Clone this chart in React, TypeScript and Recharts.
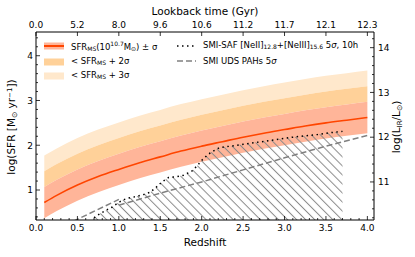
import React from "react";
import { ComposedChart, Area, Line, XAxis, YAxis } from "recharts";

// Main sequence of a 10^10.7 Msun galaxy, log SFR vs redshift
const MS_Z = [0.1, 0.25, 0.5, 0.75, 1.0, 1.25, 1.5, 1.75, 2.0, 2.25, 2.5, 2.75, 3.0, 3.25, 3.5, 3.75, 4.0];
const MS_SFR = [0.72, 0.88, 1.11, 1.3, 1.46, 1.61, 1.74, 1.87, 1.98, 2.08, 2.18, 2.27, 2.35, 2.43, 2.5, 2.56, 2.62];
const SIGMA = 0.35;

// SMI-SAF [NeII]+[NeIII] 5 sigma limit (dotted, hatched below)
const SAF_Z = [0.7, 0.78, 0.86, 0.92, 0.98, 1.05, 1.12, 1.2, 1.3, 1.38, 1.45, 1.52, 1.6, 1.7, 1.78, 1.88, 1.95, 2.01, 2.08, 2.15, 2.22, 2.35, 2.5, 2.65, 2.8, 2.95, 3.1, 3.25, 3.4, 3.55, 3.7];
const SAF_SFR = [0.38, 0.48, 0.56, 0.62, 0.7, 0.78, 0.82, 0.85, 0.9, 0.95, 1.06, 1.18, 1.28, 1.3, 1.33, 1.42, 1.55, 1.68, 1.8, 1.88, 1.95, 1.98, 2.02, 2.06, 2.1, 2.14, 2.18, 2.21, 2.24, 2.28, 2.31];

// SMI UDS PAHs 5 sigma (dashed, two pieces)
const UDS_LOW_Z = [0.45, 1.0];
const UDS_LOW_SFR = [0.3, 0.79];
const UDS_HIGH_Z = [1.0, 1.5, 2.0, 2.5, 3.0, 3.5, 4.0];
const UDS_HIGH_SFR = [0.66, 0.93, 1.18, 1.45, 1.72, 1.98, 2.22];

const LOOKBACK_LABELS = ["0.0", "5.2", "8.0", "9.6", "10.6", "11.2", "11.7", "12.1", "12.3"];

const X_DOMAIN = [0, 4.08];
const Y_DOMAIN = [0.33, 4.53];
const LIR_OFFSET = 9.82;

const FONT = "DejaVu Sans";

const msData = MS_Z.map((z, i) => {
  const m = MS_SFR[i];
  return {
    z,
    ms: m,
    band1: [m - SIGMA, m + SIGMA],
    band2: [m + SIGMA, m + 2 * SIGMA],
    band3: [m + 2 * SIGMA, m + 3 * SIGMA],
  };
});
const safData = SAF_Z.map((z, i) => ({ z, v: SAF_SFR[i] }));
const udsLow = UDS_LOW_Z.map((z, i) => ({ z, v: UDS_LOW_SFR[i] }));
const udsHigh = UDS_HIGH_Z.map((z, i) => ({ z, v: UDS_HIGH_SFR[i] }));

const xTicks: number[] = [];
for (let i = 0; i <= 40; i++) xTicks.push(i / 10);
const topTicks: number[] = [];
for (let i = 0; i <= 8; i++) topTicks.push(i / 2);
const leftTicks: number[] = [];
for (let i = 2; i <= 22; i++) leftTicks.push(i / 5);
const rightTicks: number[] = [];
for (let i = 51; i <= 71; i++) rightTicks.push(i / 5);

const MAJOR = 4;
const MINOR = 2;
const TICK_FS = 9;

function isMult(v: number, step: number) {
  const r = v / step;
  return Math.abs(r - Math.round(r)) < 1e-6;
}

const BottomTick = (p: any) => {
  const v = p.payload.value;
  const major = isMult(v, 0.5);
  return (
    <g>
      <line x1={p.x} x2={p.x} y1={p.y} y2={p.y - (major ? MAJOR : MINOR)} stroke="#000" strokeWidth={0.8} />
      {major && (
        <text x={p.x} y={p.y + 11} textAnchor="middle" fontSize={TICK_FS} fontFamily={FONT} fill="#000">
          {v.toFixed(1)}
        </text>
      )}
    </g>
  );
};

const TopTick = (p: any) => {
  const idx = Math.round(p.payload.value * 2);
  return (
    <g>
      <line x1={p.x} x2={p.x} y1={p.y} y2={p.y + MAJOR} stroke="#000" strokeWidth={0.8} />
      <text x={p.x} y={p.y - 4} textAnchor="middle" fontSize={TICK_FS} fontFamily={FONT} fill="#000">
        {LOOKBACK_LABELS[idx]}
      </text>
    </g>
  );
};

const LeftTick = (p: any) => {
  const v = p.payload.value;
  const major = isMult(v, 1);
  return (
    <g>
      <line x1={p.x} x2={p.x + (major ? MAJOR : MINOR)} y1={p.y} y2={p.y} stroke="#000" strokeWidth={0.8} />
      {major && (
        <text x={p.x - 3} y={p.y + 3.3} textAnchor="end" fontSize={TICK_FS} fontFamily={FONT} fill="#000">
          {Math.round(v)}
        </text>
      )}
    </g>
  );
};

const RightTick = (p: any) => {
  const v = p.payload.value;
  const major = isMult(v, 1);
  return (
    <g>
      <line x1={p.x} x2={p.x - (major ? MAJOR : MINOR)} y1={p.y} y2={p.y} stroke="#000" strokeWidth={0.8} />
      {major && (
        <text x={p.x + 4} y={p.y + 3.3} textAnchor="start" fontSize={TICK_FS} fontFamily={FONT} fill="#000">
          {Math.round(v)}
        </text>
      )}
    </g>
  );
};

const TitleText = ({ x, y, rotate, children }: any) => (
  <text
    x={x}
    y={y}
    textAnchor="middle"
    fontSize={10.5}
    fontFamily={FONT}
    fill="#000"
    transform={rotate ? `rotate(-90 ${x} ${y})` : undefined}
  >
    {children}
  </text>
);

const legendText: React.CSSProperties = {
  fontFamily: FONT,
  fontSize: 8.5,
  color: "#000",
  whiteSpace: "nowrap",
  lineHeight: "10px",
};
const sub: React.CSSProperties = { fontSize: 6, verticalAlign: "-1px" };
const sup: React.CSSProperties = { fontSize: 6, verticalAlign: "4px" };

function LegendRow({ x, y, swatch, children }: any) {
  return (
    <div style={{ position: "absolute", left: x, top: y - 5, display: "flex", alignItems: "center", height: 10 }}>
      <svg width={20} height={10} style={{ display: "block" }}>
        {swatch}
      </svg>
      <span style={{ ...legendText, marginLeft: 7 }}>{children}</span>
    </div>
  );
}

export default function App() {
  return (
    <div style={{ position: "absolute", left: 0, top: 0, width: 415, height: 257, background: "#fff" }}>
      <ComposedChart width={415} height={257} data={msData} margin={{ top: 0, right: 0, bottom: 0, left: 0 }}>
        <defs>
          <pattern id="hatch" width="6.4" height="6.4" patternUnits="userSpaceOnUse" patternTransform="rotate(45)">
            <line x1="0" y1="3.2" x2="6.4" y2="3.2" stroke="#8a8a8a" strokeWidth={1} />
          </pattern>
        </defs>
        <XAxis
          xAxisId="bottom"
          dataKey="z"
          type="number"
          domain={X_DOMAIN}
          allowDataOverflow
          ticks={xTicks}
          interval={0}
          tickSize={0}
          tickMargin={0}
          tickLine={false}
          tick={BottomTick}
          height={37}
          axisLine={{ stroke: "#000", strokeWidth: 1 }}
        />
        <XAxis
          xAxisId="top"
          orientation="top"
          dataKey="z"
          type="number"
          domain={X_DOMAIN}
          allowDataOverflow
          ticks={topTicks}
          interval={0}
          tickSize={0}
          tickMargin={0}
          tickLine={false}
          tick={TopTick}
          height={32}
          axisLine={{ stroke: "#000", strokeWidth: 1 }}
        />
        <YAxis
          yAxisId="left"
          type="number"
          domain={Y_DOMAIN}
          allowDataOverflow
          ticks={leftTicks}
          interval={0}
          tickSize={0}
          tickMargin={0}
          tickLine={false}
          tick={LeftTick}
          width={36}
          axisLine={{ stroke: "#000", strokeWidth: 1 }}
        />
        <YAxis
          yAxisId="right"
          orientation="right"
          type="number"
          domain={[Y_DOMAIN[0] + LIR_OFFSET, Y_DOMAIN[1] + LIR_OFFSET]}
          allowDataOverflow
          ticks={rightTicks}
          interval={0}
          tickSize={0}
          tickMargin={0}
          tickLine={false}
          tick={RightTick}
          width={41}
          axisLine={{ stroke: "#000", strokeWidth: 1 }}
        />

        <Area xAxisId="bottom" yAxisId="left" type="monotone" dataKey="band3" fill="#ffe8cc" fillOpacity={1} stroke="none" isAnimationActive={false} />
        <Area xAxisId="bottom" yAxisId="left" type="monotone" dataKey="band2" fill="#ffd199" fillOpacity={1} stroke="none" isAnimationActive={false} />
        <Area xAxisId="bottom" yAxisId="left" type="monotone" dataKey="band1" fill="#ffb599" fillOpacity={1} stroke="none" isAnimationActive={false} />
        <Line xAxisId="bottom" yAxisId="left" type="monotone" dataKey="ms" stroke="#ff4500" strokeWidth={1.6} dot={false} isAnimationActive={false} />

        <Area
          xAxisId="bottom"
          yAxisId="left"
          data={safData}
          type="linear"
          dataKey="v"
          baseValue={Y_DOMAIN[0]}
          fill="url(#hatch)"
          fillOpacity={1}
          stroke="none"
          isAnimationActive={false}
        />
        <Line xAxisId="bottom" yAxisId="left" data={safData} type="linear" dataKey="v" stroke="#000" strokeWidth={1.5} strokeDasharray="1.5 3.5" dot={false} isAnimationActive={false} />
        <Line xAxisId="bottom" yAxisId="left" data={udsLow} type="linear" dataKey="v" stroke="#808080" strokeWidth={1.5} strokeDasharray="6 3" dot={false} isAnimationActive={false} />
        <Line xAxisId="bottom" yAxisId="left" data={udsHigh} type="linear" dataKey="v" stroke="#808080" strokeWidth={1.5} strokeDasharray="6 3" dot={false} isAnimationActive={false} />
      </ComposedChart>

      {/* axis titles */}
      <svg width={415} height={257} style={{ position: "absolute", left: 0, top: 0, pointerEvents: "none" }}>
        <TitleText x={205} y={246}>Redshift</TitleText>
        <TitleText x={205} y={15}>Lookback time (Gyr)</TitleText>
        <TitleText x={15} y={127} rotate>
          log(SFR [M
          <tspan fontSize={7.5} dy={2}>⊙</tspan>
          <tspan dy={-2}> yr</tspan>
          <tspan fontSize={7} dy={-3.5}>−1</tspan>
          <tspan dy={3.5}>])</tspan>
        </TitleText>
        <TitleText x={400} y={127} rotate>
          log(L
          <tspan fontSize={7} dy={1.5}>IR</tspan>
          <tspan dy={-1.5}>/L</tspan>
          <tspan fontSize={7.5} dy={1.5}>⊙</tspan>
          <tspan dy={-1.5}>)</tspan>
        </TitleText>
      </svg>

      <LegendRow
        x={44}
        y={46}
        swatch={
          <g>
            <rect x={0} y={1.5} width={20} height={7} fill="#ffb599" />
            <line x1={0} x2={20} y1={5} y2={5} stroke="#ff4500" strokeWidth={2} />
          </g>
        }
      >
        SFR<span style={sub}>MS</span>(10<span style={sup}>10.7</span>M<span style={sub}>⊙</span>) ± σ
      </LegendRow>
      <LegendRow x={44} y={62} swatch={<rect x={0} y={1.5} width={20} height={7} fill="#ffd199" />}>
        &lt; SFR<span style={sub}>MS</span> + 2σ
      </LegendRow>
      <LegendRow x={44} y={76} swatch={<rect x={0} y={1.5} width={20} height={7} fill="#ffe8cc" />}>
        &lt; SFR<span style={sub}>MS</span> + 3σ
      </LegendRow>
      <LegendRow
        x={176}
        y={46}
        swatch={<line x1={1} x2={20} y1={5} y2={5} stroke="#000" strokeWidth={1.5} strokeDasharray="1.5 3.5" />}
      >
        SMI-SAF [NeII]<span style={sub}>12.8</span>+[NeIII]<span style={sub}>15.6</span> 5<i>σ</i>, 10h
      </LegendRow>
      <LegendRow
        x={176}
        y={61}
        swatch={<line x1={1} x2={20} y1={5} y2={5} stroke="#808080" strokeWidth={1.5} strokeDasharray="6 3" />}
      >
        SMI UDS PAHs 5<i>σ</i>
      </LegendRow>
    </div>
  );
}
